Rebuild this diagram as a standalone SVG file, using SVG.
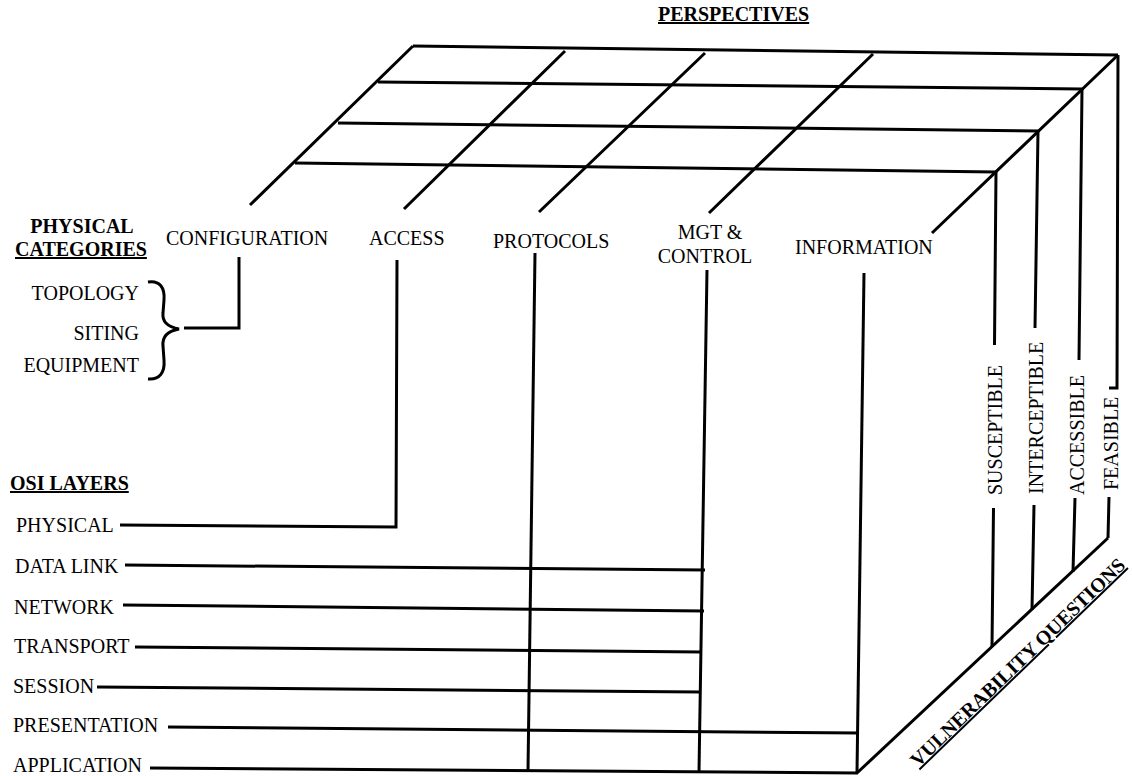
<svg xmlns="http://www.w3.org/2000/svg" width="1132" height="776" viewBox="0 0 1132 776">
<style>
  .ln{stroke:#000;stroke-width:3;fill:none;stroke-linecap:butt;stroke-linejoin:miter}
  .t{font-family:"Liberation Serif","Times New Roman",serif;font-size:20px;fill:#000}
  .b{font-weight:bold}
  .u{text-decoration:underline}
  .e{text-anchor:end}
  .m{text-anchor:middle}
</style>
<rect width="1132" height="776" fill="#fff"/>

<g id="connectors">
  <!-- top face grid -->
  <path class="ln" d="M413,46 L1118,55 M378,82 L1082,89 M338,123 L1038,131 M295,163 L996,172"/>
  <path class="ln" d="M413,46 L250,205 M565,51 L404,209 M705,53 L539,212 M873,54 L709,213 M1118,55 L932,233"/>
  <!-- right face verticals -->
  <path class="ln" d="M996,172 L994.5,345 M993.5,508 L992,647"/>
  <path class="ln" d="M1038,131 L1035,328 M1034,505 L1032,610"/>
  <path class="ln" d="M1082,89 L1079,360 M1075,498 L1073,572"/>
  <path class="ln" d="M1118,55 L1117,388 L1109,388 M1109,497 L1108,538"/>
  <!-- bottom edge -->
  <path class="ln" d="M857,773 L1108,538"/>
  <!-- front face verticals -->
  <path class="ln" d="M239,257 L239,328 L184,328"/>
  <path class="ln" d="M397,260 L396,527 L120,525"/>
  <path class="ln" d="M535,253 L528,771"/>
  <path class="ln" d="M707,270 L699,772"/>
  <path class="ln" d="M864,273 L857,773"/>
  <!-- OSI layer lines -->
  <path class="ln" d="M125,565 L705,570"/>
  <path class="ln" d="M123,605 L704,611"/>
  <path class="ln" d="M135,647 L702,652"/>
  <path class="ln" d="M97,687 L701,692"/>
  <path class="ln" d="M168,727 L859,733"/>
  <path class="ln" d="M150,768 L858,773"/>
  <!-- brace -->
  <path class="ln" stroke-width="3.5" d="M148,282 C160,280 165,288 164,300 L163,313 C162,322 168,327 179,329 C168,331 162,336 163,346 L164,360 C165,372 160,380 148,379"/>
</g>

<g id="title"><text class="t b u" x="658" y="21">PERSPECTIVES</text></g>

<g id="physical-categories">
  <text class="t b m" x="82" y="233">PHYSICAL</text>
  <text class="t b u" x="15" y="256">CATEGORIES</text>
  <text class="t e" x="139" y="300">TOPOLOGY</text>
  <text class="t e" x="139" y="340">SITING</text>
  <text class="t e" x="139" y="372">EQUIPMENT</text>
</g>

<g id="perspective-configuration"><text class="t" x="166" y="245">CONFIGURATION</text></g>
<g id="perspective-access"><text class="t" x="369" y="245">ACCESS</text></g>
<g id="perspective-protocols"><text class="t" x="493" y="248">PROTOCOLS</text></g>
<g id="perspective-mgt"><text class="t m" x="710" y="239">MGT &amp;</text><text class="t m" x="705" y="263">CONTROL</text></g>
<g id="perspective-information"><text class="t" x="795" y="254">INFORMATION</text></g>

<g id="osi-layers">
  <text class="t b u" x="10" y="490">OSI LAYERS</text>
  <text class="t" x="16" y="532">PHYSICAL</text>
  <text class="t" x="15" y="573">DATA LINK</text>
  <text class="t" x="14" y="614">NETWORK</text>
  <text class="t" x="14" y="653">TRANSPORT</text>
  <text class="t" x="13" y="693">SESSION</text>
  <text class="t" x="13" y="732">PRESENTATION</text>
  <text class="t" x="13" y="772">APPLICATION</text>
</g>

<g id="vulnerability-questions">
  <text class="t" transform="translate(1002,495) rotate(-90)">SUSCEPTIBLE</text>
  <text class="t" transform="translate(1043,494) rotate(-90)">INTERCEPTIBLE</text>
  <text class="t" transform="translate(1084,495) rotate(-90)">ACCESSIBLE</text>
  <text class="t" transform="translate(1118,490) rotate(-90)">FEASIBLE</text>
  <text class="t b u" transform="translate(918,768) rotate(-44)">VULNERABILITY QUESTIONS</text>
</g>
</svg>
